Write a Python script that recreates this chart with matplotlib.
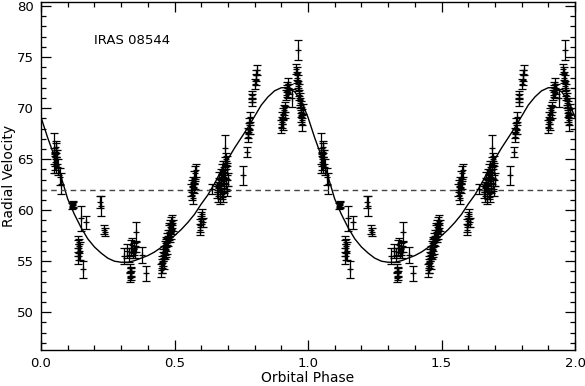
import numpy as np
import matplotlib
matplotlib.use('Agg')
import matplotlib.pyplot as plt
from matplotlib.ticker import MultipleLocator, FormatStrFormatter

# radial velocity measurements (one orbital cycle, plotted twice)
phase = [0.048, 0.050, 0.052, 0.054, 0.055, 0.056, 0.058, 0.060, 0.062, 0.070, 0.075,
         0.116, 0.118, 0.120, 0.150, 0.168,
         0.138, 0.140, 0.142, 0.140, 0.145, 0.143, 0.156,
         0.222, 0.224, 0.236, 0.238,
         0.312, 0.322, 0.330, 0.338, 0.342, 0.348, 0.352, 0.355, 0.344, 0.356, 0.380, 0.392,
         0.334, 0.336, 0.338, 0.335, 0.337,
         0.450, 0.452, 0.454, 0.455, 0.457, 0.458, 0.460, 0.462, 0.463, 0.465, 0.467, 0.468,
         0.470, 0.472, 0.473, 0.475, 0.477, 0.478, 0.480, 0.482, 0.484, 0.486, 0.488, 0.490,
         0.492, 0.494,
         0.562, 0.564, 0.566, 0.568, 0.570, 0.572, 0.574, 0.576, 0.578, 0.580,
         0.594, 0.596, 0.598, 0.600, 0.602, 0.605, 0.640,
         0.660, 0.662, 0.664, 0.666, 0.668, 0.670, 0.672, 0.674, 0.675, 0.677, 0.678, 0.680,
         0.682, 0.683, 0.685, 0.686, 0.688, 0.689, 0.690, 0.692, 0.694, 0.695, 0.697, 0.698,
         0.700, 0.755, 0.770,
         0.775, 0.776, 0.778, 0.780, 0.782, 0.784, 0.790, 0.791, 0.792,
         0.803, 0.805, 0.806, 0.808,
         0.900, 0.902, 0.904, 0.906, 0.908, 0.910, 0.912, 0.914,
         0.918, 0.920, 0.922, 0.924, 0.926, 0.928, 0.940, 0.962,
         0.956, 0.958, 0.960, 0.962, 0.964, 0.965, 0.967, 0.969, 0.970, 0.972, 0.974, 0.975,
         0.977, 0.979, 0.980]
rv = [65.6, 65.3, 65.0, 64.7, 66.2, 65.9, 64.4, 65.2, 64.2, 63.3, 62.6,
      60.4, 60.6, 60.5, 59.2, 58.8,
      56.7, 56.3, 55.9, 55.5, 56.0, 56.5, 54.2,
      60.8, 60.4, 58.1, 57.9,
      55.5, 56.0, 55.6, 56.3, 56.6, 56.2, 55.9, 56.4, 55.8, 57.9, 55.6, 53.8,
      54.3, 53.9, 53.6, 53.4, 54.0,
      54.1, 54.5, 54.9, 54.3, 55.2, 55.6, 55.0, 55.9, 56.3, 55.7, 56.6, 56.1,
      56.9, 57.2, 56.5, 57.5, 57.0, 57.8, 58.1, 57.4, 58.4, 57.9, 58.7, 58.2,
      58.9, 58.5,
      62.0, 61.5, 62.4, 61.2, 62.8, 63.2, 62.2, 63.6, 62.6, 63.9,
      58.1, 58.5, 58.9, 59.2, 59.6, 58.8, 62.1,
      61.8, 62.3, 61.4, 62.7, 63.1, 61.1, 62.0, 63.5, 62.5, 61.6, 63.9, 62.9,
      64.2, 61.3, 63.3, 62.2, 64.6, 66.1, 63.7, 65.0, 62.6, 64.0, 61.9, 64.8,
      63.0, 63.4, 65.7,
      67.2, 67.6, 68.0, 68.5, 69.1, 67.9, 70.6, 71.0, 71.3,
      72.4, 72.8, 73.2, 73.7,
      68.2, 68.6, 69.0, 68.4, 69.4, 69.8, 70.1, 69.6,
      71.3, 71.7, 72.1, 71.5, 72.4, 71.9, 71.0, 75.7,
      73.8, 73.4, 73.0, 72.6, 72.2, 71.8, 71.3, 70.9, 70.5, 70.1, 69.6, 69.2,
      68.8, 68.4, 69.9]
rv_err = [2.0, 0.8, 0.7, 0.8, 0.6, 0.7, 0.8, 0.7, 0.8, 0.8, 1.0,
          0.3, 0.3, 0.3, 1.2, 0.6,
          0.8, 0.8, 0.8, 0.8, 0.9, 0.7, 0.8,
          0.6, 1.0, 0.4, 0.4,
          0.8, 0.7, 0.7, 0.8, 0.7, 0.6, 0.6, 0.5, 0.5, 0.9, 0.8, 0.7,
          0.4, 0.4, 0.4, 0.4, 0.4,
          0.6, 0.7, 0.6, 0.5, 0.7, 0.6, 0.8, 0.6, 0.7, 0.5, 0.6, 0.7,
          0.5, 0.6, 0.8, 0.6, 0.5, 0.7, 0.6, 0.5, 0.6, 0.7, 0.6, 0.5,
          0.6, 0.5,
          0.6, 0.5, 0.6, 0.6, 0.5, 0.6, 0.5, 0.7, 0.5, 0.6,
          0.5, 0.6, 0.5, 0.6, 0.5, 0.4, 0.5,
          0.6, 0.5, 0.6, 0.5, 0.6, 0.5, 0.6, 0.5, 0.6, 0.5, 0.6, 0.5,
          0.6, 0.5, 0.6, 0.5, 0.6, 1.3, 0.5, 0.6, 0.5, 0.6, 0.5, 0.5,
          0.6, 0.9, 0.5,
          0.5, 0.5, 0.5, 0.5, 0.5, 0.4, 0.4, 0.4, 0.4,
          0.5, 0.5, 0.5, 0.5,
          0.6, 0.5, 0.6, 0.5, 0.6, 0.5, 0.5, 0.6,
          0.5, 0.6, 0.5, 0.5, 0.6, 0.5, 0.9, 1.0,
          0.5, 0.6, 0.5, 0.6, 0.5, 0.6, 0.5, 0.6, 0.5, 0.6, 0.5, 0.6,
          0.5, 0.6, 0.5]

# orbit solution curve (one cycle)
curve_phase = [0.000, 0.025, 0.050, 0.075, 0.100, 0.125, 0.150, 0.175, 0.200, 0.225,
               0.250, 0.275, 0.300, 0.325, 0.350, 0.375, 0.400, 0.425, 0.450, 0.475,
               0.500, 0.525, 0.550, 0.575, 0.600, 0.625, 0.650, 0.675, 0.700, 0.725,
               0.750, 0.775, 0.800, 0.825, 0.850, 0.875, 0.900, 0.925, 0.950, 0.975,
               1.000]
curve_rv = [69.1, 67.1, 65.3, 63.3, 61.1, 59.6, 58.3, 57.2, 56.4, 55.8,
            55.3, 55.0, 54.9, 54.9, 55.05, 55.3, 55.55, 55.9, 56.35, 56.9,
            57.5, 58.1, 58.8, 59.6, 60.6, 61.5, 62.6, 63.9, 65.0, 66.1,
            67.1, 68.1, 69.2, 70.3, 71.1, 71.7, 72.0, 72.0, 71.6, 70.7,
            69.1]
gamma = 62.0

ph = np.array(phase)
v = np.array(rv)
e = np.array(rv_err)
cp = np.array(curve_phase)
cv = np.array(curve_rv)

fig = plt.figure(figsize=(5.85, 3.86), dpi=100)
ax = fig.add_axes([41/585, 1 - 350/386, 534/585, 348/386])

ax.errorbar(np.concatenate([ph, ph + 1]), np.concatenate([v, v]),
            yerr=np.concatenate([e, e]), fmt='+', color='black', ms=5, mew=0.9,
            elinewidth=0.9, capsize=2.6, capthick=0.9)
ax.plot(np.concatenate([cp, cp[1:] + 1]), np.concatenate([cv, cv[1:]]),
        color='black', lw=1.0)
ax.axhline(gamma, color='#444444', lw=1.0, ls=(0, (4, 3)))

ax.text(0.2, 76.6, 'IRAS 08544', fontsize=9.5, va='center')

ax.set_xlim(0, 2)
ax.set_ylim(46.3, 80.4)
ax.xaxis.set_major_locator(MultipleLocator(0.5))
ax.xaxis.set_minor_locator(MultipleLocator(0.1))
ax.yaxis.set_major_locator(MultipleLocator(5))
ax.yaxis.set_minor_locator(MultipleLocator(1))
ax.xaxis.set_major_formatter(FormatStrFormatter('%.1f'))
ax.tick_params(which='both', direction='in', top=True, right=True, labelsize=9.5, width=0.9)
ax.tick_params(which='major', length=7, pad=5)
ax.tick_params(which='minor', length=3.5)
for s in ax.spines.values():
    s.set_linewidth(1.0)

ax.set_xlabel('Orbital Phase', fontsize=10)
ax.set_ylabel('Radial Velocity', fontsize=10)
ax.xaxis.label.set_va('baseline')
ax.xaxis.set_label_coords(0.5, -0.092)
ax.yaxis.set_label_coords(-0.047, 0.5)

fig.savefig('out.png', dpi=100)
